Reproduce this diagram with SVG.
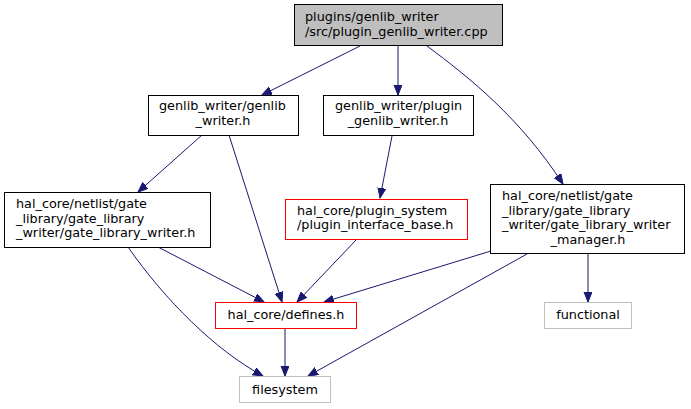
<svg xmlns="http://www.w3.org/2000/svg" width="691" height="409" viewBox="0 0 691 409">
<style>
text{font-family:"DejaVu Sans","Liberation Sans",sans-serif;font-size:12.8px;fill:#000}
.n{fill:#fff;stroke:#000;stroke-width:1}
.r{fill:#fff;stroke:#ff0000;stroke-width:1}
.g{fill:#fff;stroke:#bfbfbf;stroke-width:1}
.root{fill:#bfbfbf;stroke:#000;stroke-width:1}
.e{fill:none;stroke:#191970;stroke-width:1;marker-end:url(#ah)}
.m{text-anchor:middle}
</style>
<defs>
<marker id="ah" markerUnits="userSpaceOnUse" markerWidth="12" markerHeight="10" refX="10" refY="4" orient="auto">
<path d="M0,0 L10,4 L0,8 z" fill="#191970" stroke="#191970" stroke-width="1"/>
</marker>
</defs>
<rect width="691" height="409" fill="#fff"/>
<g id="edges">
<path class="e" d="M360,46 L262,95"/>
<path class="e" d="M398,46 L398,95"/>
<path class="e" d="M427,46 C470,78 520,118 563,184"/>
<path class="e" d="M202,135 L138,192"/>
<path class="e" d="M229,135 L282,302"/>
<path class="e" d="M392,136 L380,198"/>
<path class="e" d="M158,247 L264,302"/>
<path class="e" d="M128,247 C165,300 215,350 263,376"/>
<path class="e" d="M357,239 L297,302"/>
<path class="e" d="M491,251 L324,302"/>
<path class="e" d="M527,254 L308,376"/>
<path class="e" d="M588,253 L588,302"/>
<path class="e" d="M285,328 L285,376"/>
</g>
<g id="root">
<rect class="root" x="294.5" y="4.5" width="208" height="41"/>
<text x="305" y="21">plugins/genlib_writer</text>
<text x="305" y="36">/src/plugin_genlib_writer.cpp</text>
</g>
<g id="genlib_writer_h">
<rect class="n" x="148.5" y="95.5" width="150" height="40"/>
<text x="159" y="110">genlib_writer/genlib</text>
<text class="m" x="223" y="125">_writer.h</text>
</g>
<g id="plugin_genlib_writer_h">
<rect class="n" x="323.5" y="95.5" width="150" height="40"/>
<text x="335" y="110">genlib_writer/plugin</text>
<text class="m" x="398" y="125">_genlib_writer.h</text>
</g>
<g id="gate_library_writer_h">
<rect class="n" x="4.5" y="192.5" width="206" height="55"/>
<text x="16" y="208">hal_core/netlist/gate</text>
<text x="16" y="223">_library/gate_library</text>
<text x="16" y="237">_writer/gate_library_writer.h</text>
</g>
<g id="plugin_interface_base_h">
<rect class="r" x="285.5" y="199.5" width="182" height="40"/>
<text x="297" y="215">hal_core/plugin_system</text>
<text x="297" y="229">/plugin_interface_base.h</text>
</g>
<g id="gate_library_writer_manager_h">
<rect class="n" x="490.5" y="184.5" width="194" height="69"/>
<text x="502" y="200">hal_core/netlist/gate</text>
<text x="502" y="215">_library/gate_library</text>
<text x="502" y="229">_writer/gate_library_writer</text>
<text class="m" x="588" y="244">_manager.h</text>
</g>
<g id="defines_h">
<rect class="r" x="215.5" y="302.5" width="141" height="26"/>
<text class="m" x="286" y="319">hal_core/defines.h</text>
</g>
<g id="functional">
<rect class="g" x="544.5" y="302.5" width="87" height="26"/>
<text class="m" x="588" y="319">functional</text>
</g>
<g id="filesystem">
<rect class="g" x="239.5" y="376.5" width="91" height="26"/>
<text class="m" x="285" y="394">filesystem</text>
</g>
</svg>
